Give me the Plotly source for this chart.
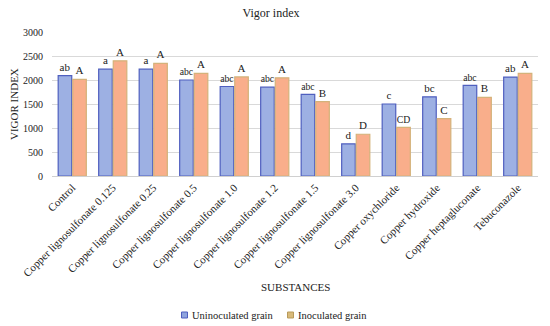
import plotly.graph_objects as go

categories = ["Control", "Copper lignosulfonate 0.125", "Copper lignosulfonate 0.25",
              "Copper lignosulfonate 0.5", "Copper lignosulfonate 1.0", "Copper lignosulfonate 1.2",
              "Copper lignosulfonate 1.5", "Copper lignosulfonate 3.0", "Copper oxychloride",
              "Copper hydroxide", "Copper heptagluconate", "Tebuconazole"]
uninoculated = [2090, 2225, 2225, 2000, 1865, 1850, 1700, 670, 1500, 1650, 1890, 2060]
inoculated = [2015, 2400, 2345, 2140, 2065, 2045, 1550, 870, 1015, 1195, 1640, 2140]
uninoc_letters = ["ab", "a", "a", "abc", "abc", "abc", "abc", "d", "c", "bc", "abc", "ab"]
inoc_letters = ["A", "A", "A", "A", "A", "A", "B", "D", "CD", "C", "B", "A"]
series_names = ["Uninoculated grain", "Inoculated grain"]

font_family = "Liberation Serif, DejaVu Serif, serif"
blue_fill, blue_line = "#9DB0E3", "#4F5FBF"
orange_fill, orange_line = "#F9AE8B", "#D4B27A"
legend_fills = ["#8FA4DE", "#D8BA7A"]
legend_lines = [blue_line, "#B89A5A"]

W, H = 550, 326
L, R, T, B = 52, 12, 32, 150
PW, PH = W - L - R, H - T - B


def px_x(x):
    return (x - L) / PW


def px_y(y):
    return (H - B - y) / PH


fig = go.Figure()
fig.add_trace(go.Bar(
    name=series_names[0], x=categories, y=uninoculated,
    text=uninoc_letters, textposition="outside", cliponaxis=False,
    textfont=dict(size=11, color="#222222", family=font_family),
    marker=dict(color=blue_fill, line=dict(color=blue_line, width=1.2)),
    showlegend=False,
))
fig.add_trace(go.Bar(
    name=series_names[1], x=categories, y=inoculated,
    text=inoc_letters, textposition="outside", cliponaxis=False,
    textfont=dict(size=11, color="#222222", family=font_family),
    marker=dict(color=orange_fill, line=dict(color=orange_line, width=1.2)),
    showlegend=False,
))

# custom compact legend (small squares + labels)
legend_marker_x = [181.5, 287.5]
legend_y = 315
shapes = []
annotations = []
for i, name in enumerate(series_names):
    x0 = legend_marker_x[i]
    shapes.append(dict(type="rect", xref="paper", yref="paper",
                       x0=px_x(x0), x1=px_x(x0 + 6), y0=px_y(legend_y + 3), y1=px_y(legend_y - 3),
                       fillcolor=legend_fills[i], line=dict(color=legend_lines[i], width=1)))
    annotations.append(dict(text=name, xref="paper", yref="paper", x=px_x(x0 + 8.5), y=px_y(legend_y),
                            xanchor="left", yanchor="middle", showarrow=False,
                            font=dict(size=10.5, family=font_family, color="#222222")))

annotations += [
    dict(text="SUBSTANCES", xref="paper", yref="paper", x=px_x(295), y=px_y(287),
         xanchor="center", yanchor="middle", showarrow=False,
         font=dict(size=11, family=font_family)),
    dict(text="VIGOR INDEX", xref="paper", yref="paper", x=px_x(14), y=0.5,
         xanchor="center", yanchor="middle", textangle=-90, showarrow=False,
         font=dict(size=11, family=font_family)),
]

fig.update_layout(
    width=W, height=H,
    margin=dict(l=L, r=R, t=T, b=B, autoexpand=False),
    paper_bgcolor="white", plot_bgcolor="white",
    font=dict(family=font_family, size=10, color="#222222"),
    title=dict(text="Vigor index", x=271 / W, xanchor="center", y=1 - 13 / H, yanchor="middle",
               font=dict(size=12, family=font_family)),
    barmode="group", bargap=0.28, bargroupgap=0.07,
    showlegend=False,
    shapes=shapes,
    annotations=annotations,
)
fig.update_xaxes(
    tickangle=-45, tickfont=dict(size=11, family=font_family), automargin=False,
    showline=True, linecolor="#d0d0d0", linewidth=1, ticks="",
)
fig.update_yaxes(
    range=[0, 3000], dtick=500, tickfont=dict(size=10, family=font_family), automargin=False,
    showgrid=True, gridcolor="#d9d9d9", gridwidth=1, zeroline=False, ticks="",
    ticklabelstandoff=8,
)

fig.write_html("out.html", config={"displayModeBar": False},
               post_script="document.body.style.margin='0';")
